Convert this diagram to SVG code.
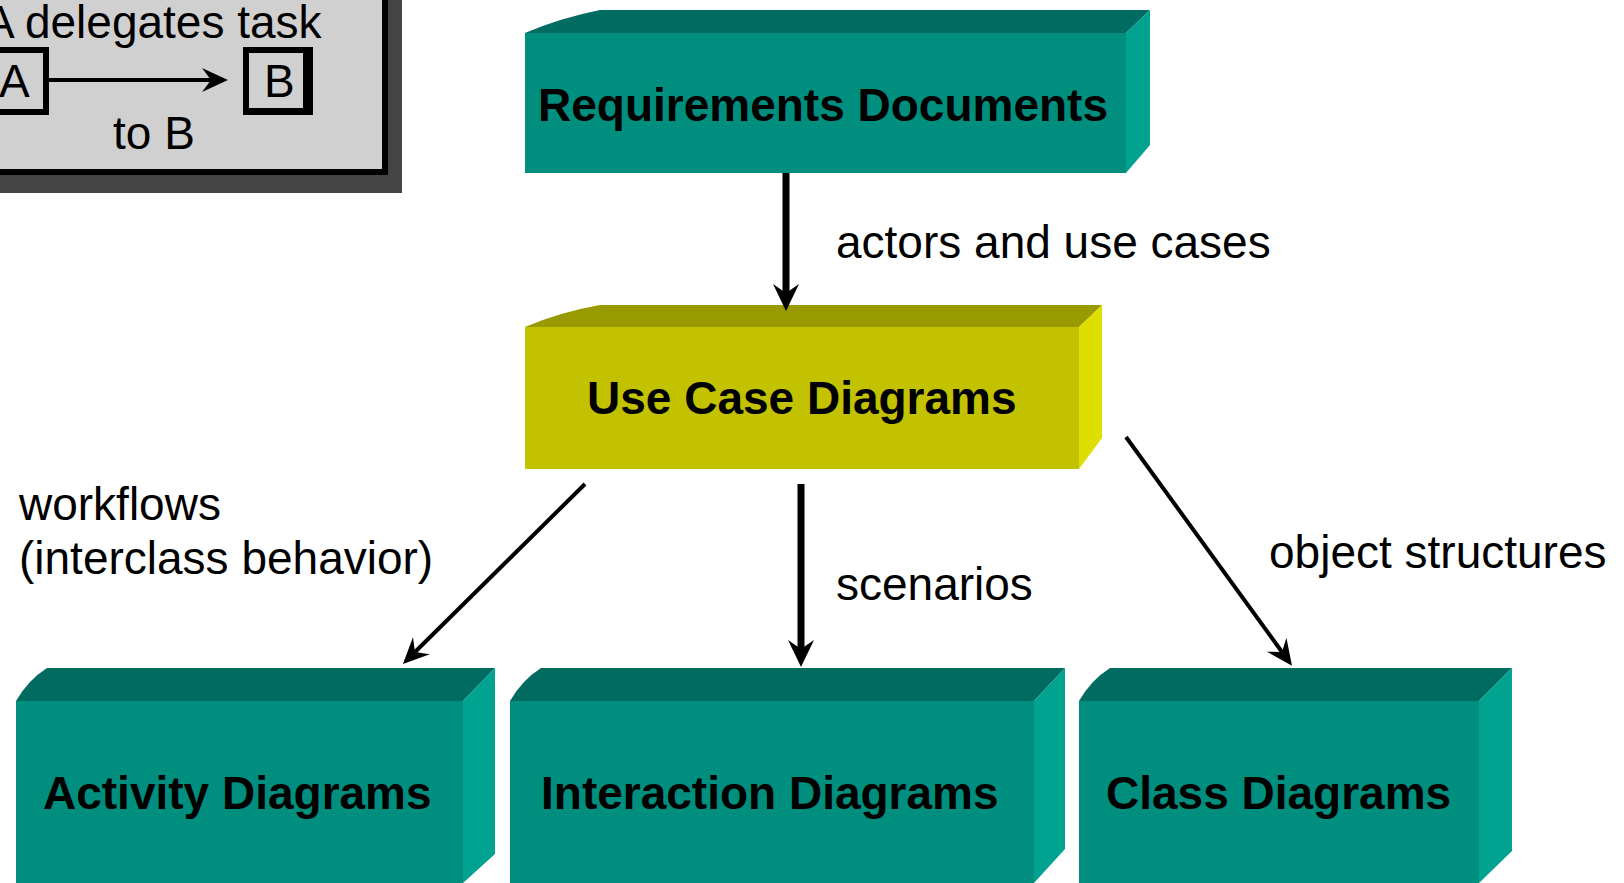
<svg xmlns="http://www.w3.org/2000/svg" width="1624" height="883" viewBox="0 0 1624 883">
<style>
text{font-family:"Liberation Sans",Arial,sans-serif;fill:#000}
.nl{font-size:46px;font-weight:bold}
.lb{font-size:46px}
.tf{fill:#006b60}.ff{fill:#008f7f}.sf{fill:#00a290}
.ty{fill:#999900}.fy{fill:#c2c200}.sy{fill:#dede00}
.cn{stroke:#000;fill:none}
</style>
<defs>
<marker id="ah" markerUnits="userSpaceOnUse" markerWidth="34" markerHeight="32" viewBox="-2 -16 34 32" refX="9" refY="0" orient="auto">
<path d="M0,-13 L27,0 L0,13 L9,0 Z" fill="#000"/>
</marker>
<marker id="ahs" markerUnits="userSpaceOnUse" markerWidth="34" markerHeight="32" viewBox="-2 -16 34 32" refX="9" refY="0" orient="auto">
<path d="M0,-12 L26,0 L0,12 L9,0 Z" fill="#000"/>
</marker>
</defs>
<rect width="1624" height="883" fill="#fff"/>
<g id="legend">
<path d="M0,175 H388 V0 H402 V193 H0 Z" fill="#444"/>
<rect x="-10" y="-10" width="395" height="182" fill="#d0d0d0" stroke="#000" stroke-width="6"/>
<rect x="-10" y="47" width="59" height="68" fill="#000"/>
<rect x="-10" y="53" width="53" height="56" fill="#d0d0d0"/>
<rect x="243" y="47" width="70" height="68" fill="#000"/>
<rect x="249" y="53" width="54" height="55" fill="#d0d0d0"/>
<line x1="49" y1="80" x2="211" y2="80" stroke="#000" stroke-width="4" marker-end="url(#ahs)"/>
<text class="lb" x="-16" y="38">A delegates task</text>
<text class="lb" x="-1" y="97">A</text>
<text class="lb" x="264" y="97">B</text>
<text class="lb" x="113" y="149">to B</text>
</g>
<g id="requirements">
<path class="tf" d="M525,33 Q560,18 600,10 H1150 L1126,33 Z"/>
<path class="sf" d="M1126,33 L1150,10 V145 L1126,173 Z"/>
<rect class="ff" x="525" y="33" width="601" height="140"/>
<text class="nl" x="538" y="121">Requirements Documents</text>
</g>
<g id="usecase">
<path class="ty" d="M525,327 Q560,312 600,305 H1102 L1079,327 Z"/>
<path class="sy" d="M1079,327 L1102,305 V438 L1079,469 Z"/>
<rect class="fy" x="525" y="327" width="554" height="142"/>
<text class="nl" x="587" y="414">Use Case Diagrams</text>
</g>
<g id="activity">
<path class="tf" d="M16,701 Q28,680 47,668 H495 L463,701 Z"/>
<path class="sf" d="M463,701 L495,668 V854 L463,883 Z"/>
<rect class="ff" x="16" y="701" width="447" height="182"/>
<text class="nl" x="43" y="809">Activity Diagrams</text>
</g>
<g id="interaction">
<path class="tf" d="M510,701 Q522,680 541,668 H1065 L1034,701 Z"/>
<path class="sf" d="M1034,701 L1065,668 V849 L1034,883 Z"/>
<rect class="ff" x="510" y="701" width="524" height="182"/>
<text class="nl" x="541" y="809">Interaction Diagrams</text>
</g>
<g id="class">
<path class="tf" d="M1079,701 Q1091,680 1110,668 H1512 L1479,701 Z"/>
<path class="sf" d="M1479,701 L1512,668 V851 L1479,883 Z"/>
<rect class="ff" x="1079" y="701" width="400" height="182"/>
<text class="nl" x="1106" y="809">Class Diagrams</text>
</g>
<g id="connectors">
<line class="cn" x1="786" y1="173" x2="786" y2="293" stroke-width="7" marker-end="url(#ah)"/>
<line class="cn" x1="801" y1="484" x2="801" y2="649" stroke-width="7" marker-end="url(#ah)"/>
<line class="cn" x1="585" y1="484" x2="415" y2="652" stroke-width="4" marker-end="url(#ahs)"/>
<line class="cn" x1="1126" y1="437" x2="1282" y2="652" stroke-width="4" marker-end="url(#ahs)"/>
<text class="lb" x="836" y="258">actors and use cases</text>
<text class="lb" x="19" y="520">workflows</text>
<text class="lb" x="19" y="574">(interclass behavior)</text>
<text class="lb" x="836" y="600">scenarios</text>
<text class="lb" x="1269" y="568">object structures</text>
</g>
</svg>
